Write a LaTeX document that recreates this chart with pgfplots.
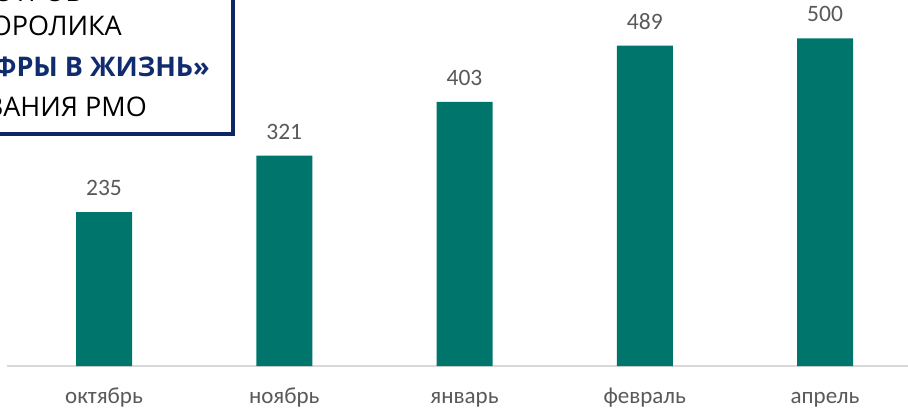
\documentclass[border=0pt]{standalone}
\usepackage{fontspec}
\setmainfont{Carlito}
\newfontfamily\boxfont{Open Sans}
\usepackage{pgfplots}
\pgfplotsset{compat=1.18}

\definecolor{barteal}{RGB}{0,117,107}
\definecolor{labelgray}{RGB}{89,89,89}
\definecolor{axisgray}{RGB}{217,217,217}
\definecolor{boxnavy}{RGB}{12,38,102}
\definecolor{titleblue}{RGB}{16,44,110}

\begin{document}
\begin{tikzpicture}[x=1bp,y=1bp]
\useasboundingbox (0,0) rectangle (908,407);
\clip (0,0) rectangle (908,407);

\begin{axis}[
    at={(104bp,41bp)}, anchor=origin,
    scale only axis,
    width=908.5bp, height=393.2bp,
    xmin=-0.54, xmax=4.5,
    ymin=0, ymax=600,
    axis y line=none,
    axis x line*=bottom,
    x axis line style={draw=axisgray, line width=2bp, -},
    xtick={0,1,2,3,4},
    xticklabels={октябрь,ноябрь,январь,февраль,апрель},
    major tick length=0,
    ytick=\empty,
    xticklabel style={anchor=base, yshift=-37bp, text=labelgray,
        font=\fontsize{23bp}{27bp}\selectfont},
    ybar, bar width=56bp,
    nodes near coords,
    every node near coord/.append style={anchor=base, yshift=16.5bp,
        text=labelgray, font=\fontsize{23.5bp}{28bp}\selectfont},
    /pgf/number format/assume math mode=true,
    clip=false,
]
\addplot[fill=barteal, draw=none] coordinates {
    (0,235) (1,321) (2,403) (3,489) (4,500)
};
\end{axis}

% title box, cut off by the page edge
\draw[boxnavy, line width=4bp, fill=white] (-300,273) rectangle (233,460);
\node[anchor=base east, inner sep=0pt, font=\boxfont\fontsize{27bp}{32bp}\selectfont]
    at (83,405) {КОЛИЧЕСТВО ПРОСМОТРОВ};
\node[anchor=base east, inner sep=0pt, font=\boxfont\fontsize{27bp}{32bp}\selectfont]
    at (122,371.3) {ВИДЕОРОЛИКА};
\node[anchor=base east, inner sep=0pt, text=titleblue,
      font=\boxfont\fontsize{27bp}{32bp}\bfseries\selectfont]
    at (210,331) {«ЦИФРЫ В ЖИЗНЬ»};
\node[anchor=base east, inner sep=0pt, font=\boxfont\fontsize{27bp}{32bp}\selectfont]
    at (147,291) {ОБРАЗОВАНИЯ РМО};
\end{tikzpicture}
\end{document}
